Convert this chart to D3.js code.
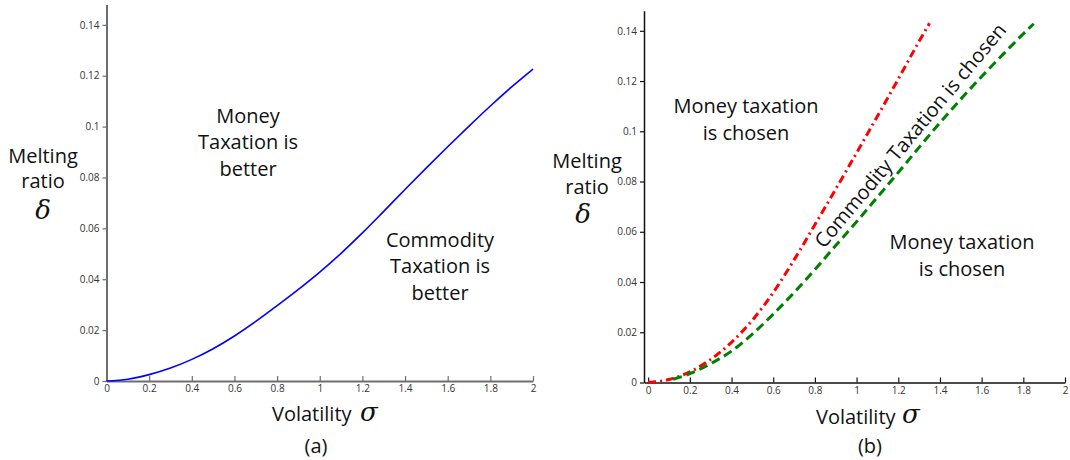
<!DOCTYPE html>
<html>
<head>
<meta charset="utf-8">
<script src="https://cdn.jsdelivr.net/npm/d3@7"></script>
<style>
  body { margin: 0; background: #fff; }
  svg { display: block; }
  .lbl { font-family: "Open Sans", Lato, sans-serif; font-size: 20px; fill: #111; font-variant-ligatures: none; }
  .tick text { font-family: "Open Sans", Lato, sans-serif; font-size: 10px; fill: #333; }
  .sym { font-family: "DejaVu Serif", "Liberation Serif", serif; font-style: italic; fill: #111; }
</style>
</head>
<body>
<div id="chart"></div>
<script>
// panel (a): boundary between money and commodity taxation
const sigmaA = [0, 0.1, 0.2, 0.3, 0.4, 0.5, 0.6, 0.7, 0.8, 0.9, 1.0, 1.1, 1.2, 1.3, 1.4, 1.5, 1.6, 1.7, 1.8, 1.9, 2.0]
const deltaA = [0, 0.0007, 0.0025, 0.0051, 0.0085, 0.0127, 0.0177, 0.0234, 0.0296, 0.0360, 0.0428, 0.0502, 0.0582, 0.0667, 0.0753, 0.0838, 0.0921, 0.1002, 0.1081, 0.1156, 0.1226]

// panel (b): red dash-dot and green dashed boundaries
const sigmaRed = [0, 0.1, 0.2, 0.3, 0.4, 0.5, 0.6, 0.7, 0.8, 0.9, 1.0, 1.1, 1.2, 1.3, 1.35]
const deltaRed = [0, 0.0012, 0.0042, 0.0092, 0.0160, 0.0248, 0.0358, 0.0488, 0.0628, 0.0770, 0.0914, 0.1060, 0.1208, 0.1358, 0.1430]
const sigmaGreen = [0.12, 0.2, 0.3, 0.4, 0.5, 0.6, 0.7, 0.8, 0.9, 1.0, 1.1, 1.2, 1.3, 1.4, 1.5, 1.6, 1.7, 1.8, 1.85]
const deltaGreen = [0.0013, 0.0035, 0.0075, 0.0125, 0.0193, 0.0272, 0.0358, 0.0450, 0.0545, 0.0640, 0.0738, 0.0836, 0.0936, 0.1034, 0.1128, 0.1218, 0.1304, 0.1388, 0.1428]

const xTicks = [0, 0.2, 0.4, 0.6, 0.8, 1, 1.2, 1.4, 1.6, 1.8, 2]
const yTicks = [0, 0.02, 0.04, 0.06, 0.08, 0.1, 0.12, 0.14]

const zip = (xs, ys) => xs.map((x, i) => ({ x, y: ys[i] }))
const fmt = d => String(+d.toFixed(2))

const svg = d3.select('#chart').append('svg')
  .attr('width', 1070)
  .attr('height', 460)

const drawAxes = (g, x, y, color, width) => {
  const ax = g.append('g')
    .attr('transform', 'translate(0,' + y.range()[0] + ')')
    .call(d3.axisBottom(x).tickValues(xTicks).tickFormat(fmt).tickSizeInner(-5).tickSizeOuter(0).tickPadding(4))
  const ay = g.append('g')
    .attr('transform', 'translate(' + x.range()[0] + ',0)')
    .call(d3.axisLeft(y).tickValues(yTicks).tickFormat(fmt).tickSizeInner(4).tickSizeOuter(0).tickPadding(3))
  ;[ax, ay].forEach(a => {
    a.select('.domain').attr('stroke', color).attr('stroke-width', width)
    a.selectAll('.tick line').attr('stroke', color).attr('stroke-width', 1.2)
  })
}

const addText = (g, lines, cx, ys) => {
  lines.forEach((t, i) => {
    g.append('text').attr('class', 'lbl')
      .attr('x', cx).attr('y', ys[i])
      .attr('text-anchor', 'middle')
      .attr('dominant-baseline', 'central')
      .text(t)
  })
}

// ---- panel (a)
const xA = d3.scaleLinear().domain([0, 2]).range([106.5, 533])
const yA = d3.scaleLinear().domain([0, 0.148]).range([381, 4.5])
const gA = svg.append('g')
drawAxes(gA, xA, yA, '#6e6e6e', 2)

const lineA = d3.line().x(d => xA(d.x)).y(d => yA(d.y)).curve(d3.curveMonotoneX)
gA.append('path')
  .datum(zip(sigmaA, deltaA))
  .attr('fill', 'none')
  .attr('stroke', '#0000ff')
  .attr('stroke-width', 1.6)
  .attr('d', lineA)

addText(gA, ['Money', 'Taxation is', 'better'], 248, [115, 141, 168])
addText(gA, ['Commodity', 'Taxation is', 'better'], 440, [239, 265, 292])
addText(gA, ['Melting', 'ratio'], 43, [155, 180])
gA.append('text').attr('class', 'sym').attr('x', 43).attr('y', 210)
  .attr('text-anchor', 'middle').attr('dominant-baseline', 'central')
  .attr('font-size', 26).text('δ')
gA.append('text').attr('class', 'lbl').attr('x', 272).attr('y', 413)
  .attr('dominant-baseline', 'central').text('Volatility')
gA.append('text').attr('class', 'sym').attr('x', 360).attr('y', 412)
  .attr('dominant-baseline', 'central').attr('font-size', 26).text('σ')
addText(gA, ['(a)'], 316, [445])

// ---- panel (b)
const xB = d3.scaleLinear().domain([-0.02, 2]).range([644, 1065])
const yB = d3.scaleLinear().domain([0, 0.148]).range([382.5, 10.7])
const gB = svg.append('g')
drawAxes(gB, xB, yB, '#111', 1.5)

const lineB = d3.line().x(d => xB(d.x)).y(d => yB(d.y)).curve(d3.curveMonotoneX)
gB.append('path')
  .datum(zip(sigmaRed, deltaRed))
  .attr('fill', 'none')
  .attr('stroke', '#ff0000')
  .attr('stroke-width', 3)
  .attr('stroke-dasharray', '8,4,2,4')
  .attr('d', lineB)
gB.append('path')
  .datum(zip(sigmaGreen, deltaGreen))
  .attr('fill', 'none')
  .attr('stroke', '#008000')
  .attr('stroke-width', 3)
  .attr('stroke-dasharray', '9,5')
  .attr('d', lineB)

addText(gB, ['Money taxation', 'is chosen'], 746, [105, 132])
addText(gB, ['Money taxation', 'is chosen'], 962, [241, 268])
gB.append('text').attr('class', 'lbl')
  .attr('transform', 'translate(910,135) rotate(-50)')
  .attr('text-anchor', 'middle')
  .attr('dominant-baseline', 'central')
  .text('Commodity Taxation is chosen')
addText(gB, ['Melting', 'ratio'], 587, [160, 186])
gB.append('text').attr('class', 'sym').attr('x', 583).attr('y', 214)
  .attr('text-anchor', 'middle').attr('dominant-baseline', 'central')
  .attr('font-size', 26).text('δ')
gB.append('text').attr('class', 'lbl').attr('x', 816).attr('y', 416)
  .attr('dominant-baseline', 'central').text('Volatility')
gB.append('text').attr('class', 'sym').attr('x', 902).attr('y', 414)
  .attr('dominant-baseline', 'central').attr('font-size', 26).text('σ')
addText(gB, ['(b)'], 870, [445])
</script>
</body>
</html>
